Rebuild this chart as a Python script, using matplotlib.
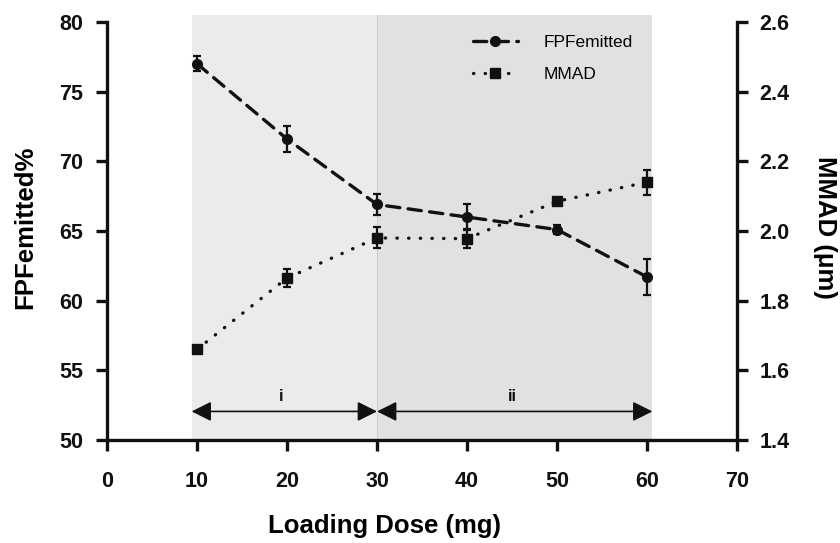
import numpy as np
import matplotlib.pyplot as plt

plt.rcParams["font.family"] = ["Liberation Sans", "DejaVu Sans"]

dose = [10, 20, 30, 40, 50, 60]
fpf = [77.0, 71.6, 66.9, 66.0, 65.1, 61.7]
fpf_err = [0.55, 0.9, 0.75, 0.95, 0.3, 1.3]
mmad = [1.66, 1.865, 1.98, 1.978, 2.085, 2.14]
mmad_err = [0.0, 0.026, 0.03, 0.027, 0.0, 0.036]

regions = [(9.4, 30, "#ebebeb", "i"), (30, 60.6, "#e1e1e1", "ii")]

fig = plt.figure(figsize=(8.4, 5.43), dpi=100)
ax = fig.add_axes([0.1274, 0.1897, 0.7500, 0.7827])
ax2 = ax.twinx()

y_top = 80.5
ax.set_xlim(0, 70)
ax.set_ylim(50, y_top)
ax2.set_ylim(1.4, 2.6 + (y_top - 80) * 1.2 / 30)

# shaded zones
for x0, x1, col, lab in regions:
    ax.fill_between([x0, x1], 50, y_top, color=col, lw=0, zorder=0)
ax.plot([30, 30], [50, y_top], color="#cfcfcf", lw=0.8, zorder=0.5)

# arrows + labels
arrow_y = 52.05
for x0, x1, col, lab in regions:
    ax.annotate("", xy=(x1, arrow_y), xytext=(x0, arrow_y),
                arrowprops=dict(arrowstyle="<|-|>", color="#111111", lw=1.2,
                                mutation_scale=30, shrinkA=0, shrinkB=0))
    ax.text((x0 + x1) / 2 - 0.3, arrow_y + 0.55, lab, ha="center", va="bottom",
            fontsize=12, fontweight="bold", color="#111111")

l1 = ax.errorbar(dose, fpf, yerr=fpf_err, color="#111111", lw=2.4,
                 linestyle=(0, (4, 2.5)), marker="o", ms=7, capsize=3,
                 elinewidth=1.6, capthick=1.6, zorder=3)
l2 = ax2.errorbar(dose, mmad, yerr=mmad_err, color="#111111", lw=2.4,
                  linestyle=(0, (0.1, 3.4)), marker="s",
                  ms=7, capsize=3, elinewidth=1.6, capthick=1.6, zorder=3)
for ln in (l1[0], l2[0]):
    ln.set_dash_capstyle("round")

for a in (ax, ax2):
    a.spines["top"].set_visible(False)
    for s in a.spines.values():
        s.set_linewidth(2.4)
        s.set_color("#111111")
    a.tick_params(width=2.4, length=8, color="#111111", labelsize=15.5,
                  labelcolor="#111111")

ax.spines["left"].set_bounds(50, 80)
ax.spines["right"].set_visible(False)
ax2.spines["left"].set_visible(False)
ax2.spines["bottom"].set_visible(False)
ax2.spines["right"].set_bounds(1.4, 2.6)

ax.set_xticks(range(0, 71, 10))
ax.set_yticks(range(50, 81, 5))
ax2.set_yticks([1.4, 1.6, 1.8, 2.0, 2.2, 2.4, 2.6])
ax2.set_yticklabels(["1.4", "1.6", "1.8", "2.0", "2.2", "2.4", "2.6"], fontweight="bold")
ax.set_xticklabels([str(v) for v in range(0, 71, 10)], fontweight="bold")
ax.set_yticklabels([str(v) for v in range(50, 81, 5)], fontweight="bold")
ax.tick_params(axis="x", pad=14)
ax.tick_params(axis="y", pad=9)
ax2.tick_params(axis="y", pad=8)

ax.set_xlabel("Loading Dose (mg)", fontsize=18.5, fontweight="bold")
ax.xaxis.set_label_coords(0.44, -0.175)
ax.set_ylabel("FPFemitted%", fontsize=18.5, fontweight="bold", labelpad=16)
ax2.set_ylabel("MMAD (\u03bcm)", fontsize=18.5, fontweight="bold", rotation=-90,
               labelpad=34)

ax.legend([l1[0], l2[0]], ["FPFemitted", "MMAD"], loc="upper right",
          bbox_to_anchor=(0.86, 0.99), frameon=False, fontsize=12.5,
          handlelength=2.6, handletextpad=1.5, labelspacing=0.95)

fig.savefig("out.png", dpi=100)
